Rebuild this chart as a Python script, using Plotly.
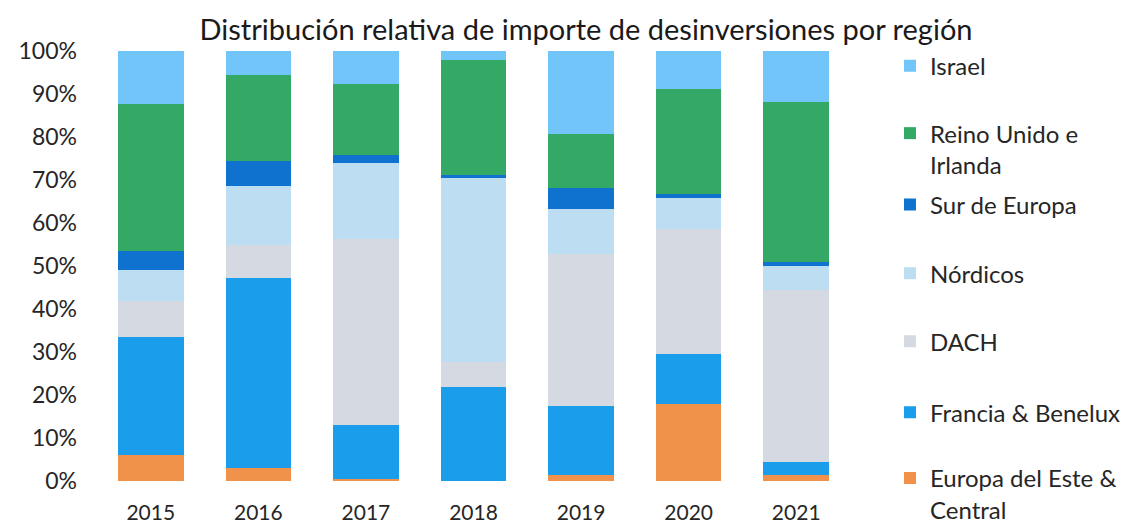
import plotly.graph_objects as go

years = ["2015", "2016", "2017", "2018", "2019", "2020", "2021"]
europa_este = [6.0, 3.1, 0.5, 0.0, 1.5, 17.9, 1.5]
francia_benelux = [27.6, 44.0, 12.6, 21.8, 15.9, 11.6, 2.9]
dach = [8.3, 7.8, 43.2, 5.8, 35.4, 29.1, 40.1]
nordicos = [7.2, 13.6, 17.6, 42.8, 10.5, 7.2, 5.4]
sur_europa = [4.4, 6.0, 1.9, 0.8, 4.9, 1.0, 1.0]
reino_unido = [34.1, 19.9, 16.5, 26.7, 12.5, 24.4, 37.3]
israel = [12.4, 5.6, 7.7, 2.1, 19.3, 8.8, 11.8]

series = [
    ("Europa del Este &<br>Central", europa_este, "#F0924A"),
    ("Francia & Benelux", francia_benelux, "#1A9DEB"),
    ("DACH", dach, "#D5DAE2"),
    ("Nórdicos", nordicos, "#BDDDF3"),
    ("Sur de Europa", sur_europa, "#0E72CE"),
    ("Reino Unido e<br>Irlanda", reino_unido, "#33A965"),
    ("Israel", israel, "#71C5F9"),
]

# legend vertical positions (paper), bottom item first
legend_y = [-0.03, 0.159, 0.324, 0.482, 0.642, 0.772, 0.965]

FONT = "Lato"
TXT = "#262626"

fig = go.Figure()
layout_legends = {}
for i, (name, vals, col) in enumerate(series):
    key = "legend" if i == 0 else f"legend{i+1}"
    fig.add_trace(go.Bar(
        x=years, y=vals, name=name, marker_color=col,
        marker_line_width=0, legend=key,
    ))
    layout_legends[key] = dict(
        x=1.0531, xanchor="left", y=legend_y[i], yanchor="middle",
        bgcolor="rgba(0,0,0,0)", valign="top",
        font=dict(family=FONT, size=24, color=TXT),
    )

# page body has a default 8px margin, so the figure is sized to fit inside the window
fig.update_layout(
    width=1122, height=517,
    paper_bgcolor="white", plot_bgcolor="white",
    barmode="stack", bargap=0.39,
    margin=dict(l=89, r=280, t=43, b=44, autoexpand=False),
    title=dict(
        text="Distribución relativa de importe de desinversiones por región",
        x=0.5152, xref="container", xanchor="center",
        y=0.9574, yref="container", yanchor="middle",
        font=dict(family=FONT, size=29, color="#1a1a1a"),
    ),
    font=dict(family=FONT, color=TXT),
    showlegend=True,
    **layout_legends,
)
fig.update_xaxes(
    showgrid=False, showline=False, zeroline=False, automargin=False,
    tickfont=dict(family=FONT, size=21, color=TXT),
    ticklabelstandoff=17,
)
fig.update_yaxes(
    range=[0, 100], dtick=10, ticksuffix="%", automargin=False,
    showgrid=False, showline=False, zeroline=False,
    tickfont=dict(family=FONT, size=23, color=TXT),
    ticklabelstandoff=19,
)

fig.write_html("out.html")
